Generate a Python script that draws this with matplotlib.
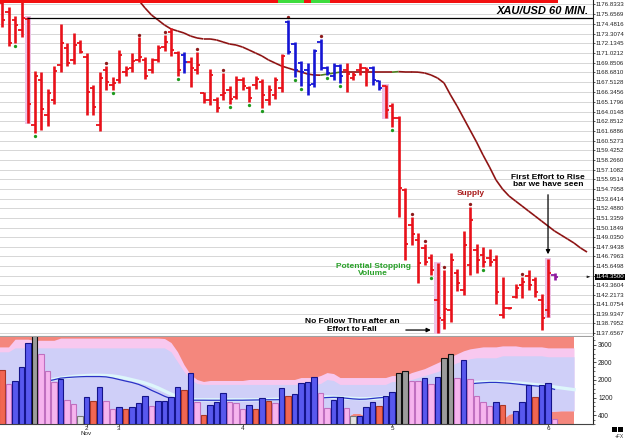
import numpy as np
import matplotlib
matplotlib.use("Agg")
import matplotlib.pyplot as plt
import matplotlib.transforms as mtransforms
from matplotlib.patches import Rectangle
from matplotlib.collections import LineCollection
from matplotlib.ticker import MultipleLocator

# ---------------- data ----------------
bar_high = [1177.19, 1176.48, 1175.40, 1177.07, 1175.29, 1168.85, 1168.74, 1166.71, 1169.45, 1174.45,
            1172.19, 1173.38, 1172.55, 1171.00, 1167.19, 1168.74, 1169.45, 1168.14, 1171.36, 1169.45,
            1171.00, 1172.90, 1170.52, 1170.40, 1171.95, 1173.14, 1173.98, 1171.24, 1171.12, 1170.52,
            1171.12, 1166.36, 1169.09, 1165.76, 1168.62, 1167.07, 1168.26, 1168.14, 1167.07, 1168.26,
            1167.90, 1167.19, 1168.14, 1170.88, 1174.93, 1172.31, 1170.05, 1169.81, 1171.48, 1172.67,
            1169.45, 1169.81, 1169.69, 1169.81, 1168.74, 1169.81, 1169.33, 1169.45, 1167.78, 1167.19,
            1165.04, 1163.50, 1154.92, 1151.47, 1149.57, 1148.26, 1147.06, 1145.99, 1145.16, 1147.18,
            1145.28, 1149.80, 1152.66, 1148.26, 1147.90, 1147.66, 1146.95, 1144.33, 1140.75, 1143.49,
            1144.33, 1145.16, 1144.33, 1142.30, 1146.47, 1144.80]
bar_low = [1174.09, 1171.83, 1172.19, 1172.90, 1162.66, 1161.47, 1161.83, 1162.31, 1164.93, 1168.74,
           1169.45, 1169.69, 1171.00, 1163.62, 1163.62, 1161.71, 1166.59, 1166.59, 1167.43, 1168.26,
           1168.74, 1169.93, 1167.90, 1168.62, 1169.93, 1171.24, 1170.64, 1168.26, 1168.62, 1166.95,
           1168.50, 1165.04, 1164.81, 1163.97, 1165.40, 1164.93, 1165.52, 1166.59, 1165.16, 1166.71,
           1164.45, 1164.81, 1165.52, 1166.36, 1170.88, 1168.14, 1167.07, 1166.00, 1166.95, 1168.97,
           1168.38, 1167.78, 1167.43, 1166.36, 1167.78, 1168.38, 1167.07, 1167.19, 1166.59, 1163.26,
           1162.19, 1151.47, 1146.35, 1148.14, 1143.61, 1145.75, 1144.56, 1137.66, 1138.13, 1138.97,
           1142.66, 1142.18, 1144.56, 1144.80, 1145.52, 1145.63, 1141.11, 1139.44, 1140.51, 1141.83,
           1141.83, 1142.78, 1141.95, 1138.01, 1139.56, 1143.97]
bar_open = [1176.95, 1175.88, 1174.93, 1173.74, 1175.05, 1162.43, 1167.78, 1163.62, 1165.40, 1169.57,
            1171.59, 1170.17, 1172.19, 1170.52, 1166.83, 1162.43, 1168.97, 1167.19, 1167.78, 1168.74,
            1169.21, 1170.17, 1170.17, 1168.97, 1170.17, 1171.71, 1173.50, 1171.00, 1170.76, 1169.93,
            1168.97, 1166.24, 1165.40, 1165.40, 1166.00, 1166.59, 1165.76, 1167.78, 1166.83, 1167.19,
            1167.55, 1165.40, 1166.00, 1166.83, 1174.69, 1172.07, 1169.81, 1168.97, 1167.31, 1172.31,
            1169.21, 1168.26, 1169.45, 1168.97, 1168.02, 1168.97, 1169.21, 1169.21, 1167.67, 1167.07,
            1164.69, 1163.26, 1154.69, 1150.52, 1148.73, 1147.78, 1146.59, 1141.59, 1139.20, 1140.40,
            1144.80, 1142.78, 1145.75, 1147.54, 1146.95, 1146.59, 1146.35, 1139.80, 1140.63, 1141.95,
            1143.37, 1144.45, 1143.97, 1141.59, 1140.40, 1144.56]
bar_close = [1174.93, 1172.19, 1174.33, 1175.17, 1164.93, 1168.26, 1164.33, 1166.24, 1168.85, 1172.19,
             1169.81, 1171.95, 1171.12, 1166.36, 1164.57, 1168.02, 1167.55, 1167.43, 1170.76, 1169.09,
             1170.05, 1170.52, 1168.26, 1170.17, 1171.59, 1172.31, 1171.36, 1168.97, 1169.93, 1169.21,
             1169.57, 1165.40, 1168.38, 1164.45, 1166.24, 1165.52, 1167.78, 1167.07, 1165.64, 1167.90,
             1166.00, 1166.59, 1167.78, 1170.64, 1171.12, 1168.97, 1168.74, 1167.19, 1171.24, 1169.21,
             1168.62, 1169.45, 1168.26, 1168.50, 1168.38, 1169.21, 1168.97, 1167.78, 1166.83, 1164.21,
             1163.26, 1154.92, 1148.26, 1149.45, 1145.99, 1146.11, 1145.16, 1139.44, 1140.51, 1146.35,
             1143.61, 1148.14, 1151.11, 1146.35, 1146.11, 1146.11, 1142.54, 1140.63, 1140.63, 1143.02,
             1143.73, 1143.37, 1142.54, 1139.44, 1144.80, 1144.35]
bar_color = ("rrrrrrrrrr" "rrrrrrrrrr" "rrrrrrrrbr" "rrrrrrrrrr" "rrrrbbbbbb"
             "bbbrrrrbbr" "rrrrrrrrrr" "rrrrrrrrrr" "rrrrrm")
highlight_bars = [5, 60, 68, 85]
support_dot_bars = [3, 6, 18, 28, 36, 39, 41, 46, 47, 51, 53, 61, 67, 75]
resist_dot_bars = [17, 22, 26, 31, 35, 45, 50, 64, 66, 69, 73, 81]

ma_first_bar = 21
ma_values = [1178.26, 1177.31, 1176.36, 1175.52, 1174.93, 1174.33, 1173.86, 1173.62, 1173.38, 1173.02,
             1172.79, 1172.67, 1172.67, 1172.55, 1172.31, 1172.07, 1171.95, 1171.71, 1171.36, 1171.00,
             1170.64, 1170.17, 1169.81, 1169.45, 1169.21, 1168.97, 1168.74, 1168.50, 1168.38, 1168.36,
             1168.48, 1168.60, 1168.72, 1168.72, 1168.72, 1168.72, 1168.72, 1168.72, 1168.72, 1168.72,
             1168.72, 1168.78, 1168.74, 1168.74, 1168.72, 1168.62, 1168.38, 1168.02, 1167.43, 1166.00,
             1164.69, 1163.26, 1161.83, 1160.40, 1158.85, 1157.42, 1155.88, 1154.80, 1153.97, 1153.37,
             1152.78, 1152.18, 1151.59, 1150.99, 1150.40, 1149.80, 1149.33, 1148.85, 1148.37, 1147.78,
             1147.30]

resist_level = 1175.17
resist_from_bar = 5
strip_segments = [(1, 43, "red"), (44, 47, "green"), (48, 48, "red"), (49, 51, "green"), (52, 86, "red")]

price_ticks = [1176.8333, 1175.6569, 1174.4816, 1173.3074, 1172.1345, 1171.0212, 1169.8506, 1168.6810,
               1167.5128, 1166.3456, 1165.1796, 1164.0148, 1162.8512, 1161.6886, 1160.5273, 1159.4252,
               1158.2660, 1157.1082, 1155.9514, 1154.7958, 1153.6414, 1152.4880, 1151.3359, 1150.1849,
               1149.0350, 1147.9438, 1146.7963, 1145.6498, 1144.5040, 1143.3604, 1142.2173, 1141.0754,
               1139.9347, 1138.7952, 1137.6567]
last_price = 1144.35

volume = [2470, 1796, 1931, 2604, 3682, 4300, 3188, 2425, 1886, 2021,
          1078, 898, 359, 1212, 1033, 1661, 1033, 674, 763, 674,
          763, 943, 1257, 808, 1033, 1033, 1212, 1661, 1527, 2335,
          988, 404, 853, 988, 1392, 988, 943, 674, 853, 674,
          1167, 1033, 943, 1616, 1257, 1347, 1841, 1886, 2155, 1392,
          718, 1078, 1212, 718, 359, 359, 763, 988, 808, 1257,
          1437, 2335, 2425, 1931, 1931, 2110, 1796, 2155, 3008, 3188,
          2110, 2919, 2065, 1257, 988, 808, 988, 853, 0, 584,
          988, 1751, 1212, 1751, 1841, 225]
volume_type = ("spbbbgpppb" "ppwbsbppbs" "bbbpbbbbsb" "psbbbpppbs" "bspbsbbbbp"
               "pbbpwbbbsb" "bggppbpbgg" "pbppppbs-b" "bbsbbp")

vol_ma_blue = [1706, 1730, 1750, 1770, 1780, 1830, 1890, 1950, 2010, 2080,
               2110, 2130, 2145, 2155, 2155, 2155, 2140, 2090, 2020, 1950,
               1886, 1800, 1680, 1530, 1400, 1260, 1150, 1100, 1080, 1080,
               1080, 1080, 1078, 1078, 1078, 1078, 1080, 1080, 1085, 1090,
               1095, 1100, 1100, 1105, 1110, 1115, 1120, 1130, 1150, 1180,
               1200, 1210, 1200, 1170, 1140, 1122, 1130, 1160, 1190, 1212,
               1240, 1280, 1320, 1347, 1400, 1460, 1520, 1580, 1640, 1706,
               1750, 1790, 1820, 1850, 1870, 1886, 1886, 1870, 1850, 1820,
               1790, 1760, 1730, 1706, 1650, 1572]
vol_ma_cyan = [1700, 1720, 1750, 1790, 1830, 1880, 1930, 1980, 2030, 2080,
               2120, 2160, 2180, 2200, 2210, 2210, 2200, 2180, 2140, 2080,
               2010, 1940, 1860, 1760, 1640, 1500, 1360, 1240, 1160, 1120,
               1100, 1100, 1100, 1100, 1100, 1100, 1100, 1100, 1100, 1100,
               1100, 1110, 1120, 1130, 1140, 1160, 1180, 1200, 1220, 1230,
               1230, 1220, 1200, 1180, 1160, 1150, 1150, 1160, 1180, 1210,
               1250, 1300, 1360, 1420, 1480, 1540, 1600, 1660, 1710, 1760,
               1800, 1840, 1870, 1890, 1900, 1905, 1905, 1900, 1890, 1870,
               1850, 1820, 1790, 1760, 1720, 1680, 1640, 1600, 1560]
# volume envelope bands, one value per bar slot 0..89
band_top = [3500, 3500, 3500, 3850, 3850, 3850, 3800, 3800, 3800, 3800,
            3900, 3900, 3900, 3900, 3900, 3900, 3900, 3900, 3900, 3900,
            3900, 3900, 3900, 3900, 3900, 3900, 3880, 3700, 3280, 2694,
            2245, 2021, 1931, 1976, 1976, 1976, 1976, 1976, 1976, 2021,
            2021, 2021, 2021, 2021, 2021, 2021, 2021, 2110, 2110, 2110,
            2200, 2335, 2290, 2110, 2110, 2110, 2110, 2110, 2110, 2110,
            2110, 2200, 2200, 2200, 2335, 2425, 2514, 2649, 2784, 2919,
            3053, 3188, 3323, 3412, 3457, 3502, 3502, 3502, 3547, 3547,
            3547, 3502, 3502, 3502, 3502, 3457, 3457, 3457, 3457, 3457]
band_mid = [3278, 3278, 3278, 3457, 3457, 3457, 3457, 3457, 3457, 3457,
            3457, 3457, 3457, 3457, 3457, 3457, 3457, 3457, 3457, 3457,
            3457, 3457, 3457, 3457, 3457, 3457, 3457, 3278, 2829, 2380,
            2021, 1841, 1796, 1796, 1796, 1796, 1796, 1796, 1796, 1796,
            1796, 1796, 1796, 1796, 1796, 1796, 1796, 1796, 1796, 1796,
            1841, 2021, 1976, 1796, 1796, 1796, 1796, 1796, 1796, 1796,
            1796, 1931, 1931, 1931, 2021, 2110, 2200, 2290, 2380, 2514,
            2649, 2784, 2874, 2963, 3008, 3008, 3008, 3008, 3098, 3098,
            3098, 3098, 3098, 3098, 3098, 3053, 3053, 3053, 3053, 3053]
band_low = [-300, -300, -300, -300, -300, -300, -300, -300, -300, -300,
            -300, -300, -300, -300, -300, -300, -300, -300, -300, -300,
            -300, -300, -300, -300, -300, -300, -300, -300, -300, -300,
            -300, -300, -300, -300, -300, -300, -300, -300, -300, -300,
            -300, -300, -300, -300, -300, -300, -300, -300, -300, -300,
            -300, -300, -300, -300, 300, 480, 480, 350, -300, -300,
            -300, -300, -300, -300, -300, -300, -300, -300, -300, -300,
            -300, -300, -300, -300, -300, -300, -300, -300, 200, 450,
            500, 520, 520, 540, 540, 560, 580, 600, 600, 600]
vol_ticks = [400, 1200, 2000, 2800, 3600]

day_ticks = [14, 19, 38, 61, 85]
day_labels = ["2\nNov", "3", "4", "5", "6"]

# ---------------- fonts ----------------
plt.rcParams["font.family"] = ["Liberation Sans", "DejaVu Sans"]
TICK_SIZE = 4.4

# ---------------- figure ----------------
W, H = 625, 440
fig = plt.figure(figsize=(W / 100, H / 100), dpi=100)
fig.patch.set_facecolor("white")
ax = fig.add_axes([0, 1 - 336 / H, 593 / W, 336 / H])
axv = fig.add_axes([0, 1 - 424 / H, 593 / W, 87 / H])

n = len(bar_high)
xs = np.arange(1, n + 1)
xlim = (0.692, 91.92)

# ---- price panel ----
ax.set_xlim(*xlim)
ax.set_ylim(1137.30, 1177.31)
ax.set_yticks(price_ticks)
ax.set_yticklabels([("" if abs(v - 1144.504) < 1e-3 else f"{v:.4f}") for v in price_ticks],
                   fontsize=TICK_SIZE, color="#222222")
ax.yaxis.tick_right()
ax.tick_params(axis="y", length=1.5, width=0.6, pad=0.6, color="#333333")
ax.set_xticks([])
ax.grid(axis="y", color="#D6D6D6", lw=0.7, zorder=0)
for s in ("top", "left"):
    ax.spines[s].set_visible(False)
ax.spines["right"].set_color("#222222")
ax.spines["right"].set_linewidth(0.8)
ax.spines["bottom"].set_color("#A0A0A0")
ax.spines["bottom"].set_linewidth(0.8)

col_map = {"r": "#E8111A", "b": "#1616D4", "m": "#8E1AA0"}
for i in highlight_bars:
    k = i - 1
    ax.add_patch(Rectangle((i - 0.48, bar_low[k] - 0.12), 0.96, bar_high[k] - bar_low[k] + 0.24,
                           facecolor="#EDC3E6", edgecolor="none", zorder=2))

ma_x = np.arange(ma_first_bar, ma_first_bar + len(ma_values))
pts = np.column_stack([ma_x, ma_values])
segs = np.stack([pts[:-1], pts[1:]], axis=1)
seg_cols = ["#4E7F1E" if b > a else "#8E1414" for a, b in zip(ma_values[:-1], ma_values[1:])]
ax.add_collection(LineCollection(segs, colors=seg_cols, linewidths=1.2, zorder=2.5))

for k in range(n):
    c = col_map[bar_color[k]]
    x = xs[k]
    ax.vlines(x, bar_low[k], bar_high[k], color=c, lw=1.9, zorder=3)
    ax.hlines(bar_open[k], x - 0.5, x, color=c, lw=1.3, zorder=3)
    ax.hlines(bar_close[k], x, x + 0.5, color=c, lw=1.3, zorder=3)

ax.plot(support_dot_bars, [bar_low[i - 1] - 0.38 for i in support_dot_bars], "o",
        color="#1E9A1E", ms=2.4, mec="none", zorder=4)
ax.plot(resist_dot_bars, [bar_high[i - 1] + 0.30 for i in resist_dot_bars], "o",
        color="#8E1A1A", ms=2.4, mec="none", zorder=4)

ax.hlines(resist_level, resist_from_bar - 0.2, xlim[1], color="black", lw=0.9, zorder=4)

blend = mtransforms.blended_transform_factory(ax.transData, ax.transAxes)
strip_cols = {"red": "#F21010", "green": "#3EDC3E"}
for s, e, c in strip_segments:
    ax.add_patch(Rectangle((s - 0.5, 1 - 3.5 / 336), e - s + 1, 3.5 / 336, transform=blend,
                           facecolor=strip_cols[c], edgecolor="none", zorder=6))

ax.text(0.992, 1 - 11 / 336, "XAU/USD 60 MIN.", transform=ax.transAxes, ha="right", va="center",
        fontsize=8, fontweight="bold", fontstyle="italic", color="black", zorder=7)

ax.text(85.0, 1155.76, "First Effort to Rise\nbar we have seen", ha="center", va="center",
        fontsize=6, fontweight="bold", color="black", linespacing=1.05, zorder=7)
ax.annotate("", xy=(85.0, 1146.7), xytext=(85.0, 1154.45),
            arrowprops=dict(arrowstyle="-|>", color="black", lw=0.9, mutation_scale=6), zorder=7)
ax.text(73.15, 1154.21, "Supply", ha="center", va="center", fontsize=6, fontweight="bold",
        color="#A81818", zorder=7)
ax.text(58.1, 1145.16, "Potential Stopping\nVolume", ha="center", va="center", fontsize=6,
        fontweight="bold", color="#28A028", linespacing=1.05, zorder=7)
ax.text(54.85, 1138.55, "No Follow Thru after an\nEffort to Fall", ha="center", va="center",
        fontsize=6, fontweight="bold", color="black", linespacing=1.05, zorder=7)
ax.annotate("", xy=(67.4, 1138.01), xytext=(62.7, 1138.01),
            arrowprops=dict(arrowstyle="-|>", color="black", lw=0.9, mutation_scale=6), zorder=7)

yblend = mtransforms.blended_transform_factory(ax.transAxes, ax.transData)
ax.text(1.0045, last_price, f"{last_price:.4f}", transform=yblend, ha="left", va="center",
        fontsize=TICK_SIZE, color="white", zorder=8, clip_on=False,
        bbox=dict(boxstyle="square,pad=0.12", facecolor="black", edgecolor="none"))
ax.annotate("", xy=(0.999, last_price), xytext=(0.988, last_price), xycoords=yblend,
            textcoords=yblend, arrowprops=dict(arrowstyle="-|>", color="#222222", lw=0.6,
                                               mutation_scale=3), annotation_clip=False)

# ---- volume panel ----
axv.set_xlim(*xlim)
axv.set_ylim(0, 3950)
band_x = np.arange(0, len(band_top))
axv.fill_between(band_x, -1000, 5000, color="#F4877D", lw=0, zorder=0)
axv.fill_between(band_x, band_low, band_top, color="#F8C8EF", lw=0, zorder=0.5)
axv.fill_between(band_x, band_low, band_mid, color="#CFCFF8", lw=0, zorder=0.6)
axv.plot(np.arange(1, len(vol_ma_cyan) + 1), vol_ma_cyan, color="#DDF6FB", lw=2.4, zorder=1)
axv.plot(np.arange(1, len(vol_ma_blue) + 1), vol_ma_blue, color="#2A32C6", lw=0.9, zorder=1.2)

vcol = {"b": ("#5858EE", "#14148A"), "p": ("#F6B4EE", "#C070C0"), "s": ("#F26652", "#A83828"),
        "g": ("#9C9C9C", "#101010"), "w": ("#E2E2E2", "#7A7A7A")}
for k, (v, t) in enumerate(zip(volume, volume_type)):
    if t == "-":
        continue
    fc, ec = vcol[t]
    axv.bar(k + 1, v, width=0.78, color=fc, edgecolor=ec, linewidth=0.8, zorder=3)

axv.yaxis.tick_right()
axv.set_yticks(vol_ticks)
axv.set_yticklabels([str(v) for v in vol_ticks], fontsize=TICK_SIZE + 0.3, color="#222222")
axv.yaxis.set_minor_locator(MultipleLocator(200))
axv.tick_params(axis="y", which="major", length=2.5, width=0.6, pad=1.2, color="#333333")
axv.tick_params(axis="y", which="minor", length=1.3, width=0.5, color="#333333")
axv.set_xticks(day_ticks)
axv.set_xticklabels(day_labels, fontsize=4.5, color="#222222", linespacing=0.8)
axv.tick_params(axis="x", length=1.5, width=0.6, pad=0.2, color="#333333")
axv.spines["top"].set_visible(False)
axv.spines["left"].set_visible(False)
axv.spines["right"].set_color("#222222")
axv.spines["right"].set_linewidth(0.8)
axv.spines["bottom"].set_color("#444444")
axv.spines["bottom"].set_linewidth(0.8)

# bottom-right corner marks
fig.patches.append(Rectangle((612 / W, 1 - 432 / H), 5 / W, 5 / H, transform=fig.transFigure,
                             facecolor="black", edgecolor="none"))
fig.patches.append(Rectangle((618 / W, 1 - 432 / H), 5 / W, 5 / H, transform=fig.transFigure,
                             facecolor="black", edgecolor="none"))
fig.text(619 / W, 1 - 436.5 / H, "+FX", ha="center", va="center", fontsize=3.6, color="#333333")

fig.savefig("out.png", dpi=100, facecolor="white")
